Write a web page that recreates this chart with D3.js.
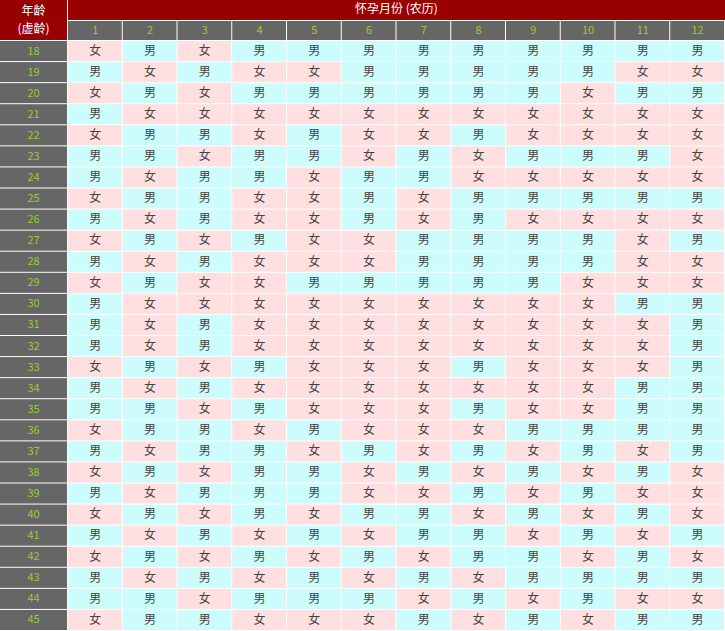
<!DOCTYPE html>
<html><head><meta charset="utf-8">
<script src="https://cdn.jsdelivr.net/npm/d3@7"></script>
<style>body{margin:0;background:#fff}</style>
</head><body><svg id="c" width="725" height="631"></svg>
<script>
const months = ["1","2","3","4","5","6","7","8","9","10","11","12"];
const ages = d3.range(18,46).map(String);
const rowsData = [
"FMFMMMMMMMMM","MFMFFMMMMMFF","FMFMMMMMMFMM","MFFFFFFFFFFF",
"FMMFMFFMFFFF","MMFMMFMFMMMF","MFMMFMMFFFFF","FMMFFMFMMMMM",
"MFMFFMFMFFFF","FMFMFFMMMMFM","MFMFFFMMMMFF","FMFFMMMMMFFF",
"MFFFFFFFFFMM","MFMFFFFFFFFM","MFMFFFFFFFFM","FMFMFFFMFFFM",
"MFMFFFFFFFMM","MMFMFFFMFFMM","FMMFMFFFMMMM","MFMMFMFMFMFM",
"FMFMMFMFMFMF","MFMMMFFMFMFF","FMFMFMMFMFMF","MFMFMFMMFMFM",
"FMFMFMFMMFMF","MFMFMFMFMMMM","MMFMMMFMFMFF","FMMFFFMFMFMM"];
const title = "怀孕月份 (农历)";
const ageHead = ["年龄","(虚龄)"];

const svg = d3.select("#c");
const W=725,H=631,left=68,h1=20,h2=40;
const x = d3.scaleBand().domain(months).range([left,W]);
const y = d3.scaleBand().domain(ages).range([h2+1,H]);
const font = "'Noto Sans CJK SC', sans-serif";

svg.append("rect").attr("x",0).attr("y",0).attr("width",W).attr("height",H).attr("fill","#fff");
// header
svg.append("rect").attr("x",0).attr("y",0).attr("width",left-1).attr("height",h2).attr("fill","#990000");
svg.append("rect").attr("x",left).attr("y",0).attr("width",W-left).attr("height",h1).attr("fill","#990000");
svg.selectAll(".ah").data(ageHead).join("text").attr("x",(left-1)/2).attr("y",(d,i)=>i?30:12)
 .attr("text-anchor","middle").attr("dominant-baseline","middle").attr("fill","#fff")
 .attr("font-size",12).attr("font-family",font).text(d=>d);
svg.append("text").attr("x",(left+W)/2).attr("y",10).attr("text-anchor","middle").attr("dominant-baseline","middle")
 .attr("fill","#fff").attr("font-size",12).attr("font-family",font).text(title);
const mh = svg.selectAll(".mh").data(months).join("g");
mh.append("rect").attr("x",d=>x(d)).attr("y",h1+1).attr("width",x.bandwidth()-1).attr("height",h2-h1-1).attr("fill","#666");
mh.append("text").attr("x",d=>x(d)+x.bandwidth()/2).attr("y",(h1+h2)/2+1).attr("text-anchor","middle")
 .attr("dominant-baseline","middle").attr("fill","#99cc33").attr("font-size",11).attr("font-family",font).text(d=>d);
// age column
const ag = svg.selectAll(".ag").data(ages).join("g");
ag.append("rect").attr("x",0).attr("y",d=>y(d)).attr("width",left-1).attr("height",y.bandwidth()-1).attr("fill","#666");
ag.append("text").attr("x",(left-1)/2).attr("y",d=>y(d)+y.bandwidth()/2).attr("text-anchor","middle")
 .attr("dominant-baseline","middle").attr("fill","#99cc33").attr("font-size",11).attr("font-family",font).text(d=>d);
// cells
const cells=[];
rowsData.forEach((r,i)=>r.split("").forEach((g,j)=>cells.push({age:ages[i],m:months[j],g})));
const cg = svg.selectAll(".cell").data(cells).join("g");
cg.append("rect").attr("x",d=>x(d.m)).attr("y",d=>y(d.age)).attr("width",x.bandwidth()-1).attr("height",y.bandwidth()-1)
 .attr("fill",d=>d.g==="M"?"#ccfcfc":"#ffdfdf");
cg.append("text").attr("x",d=>x(d.m)+x.bandwidth()/2).attr("y",d=>y(d.age)+y.bandwidth()/2)
 .attr("text-anchor","middle").attr("dominant-baseline","middle").attr("fill","#444").attr("font-size",12)
 .attr("font-family",font).text(d=>d.g==="M"?"男":"女");
</script></body></html>
